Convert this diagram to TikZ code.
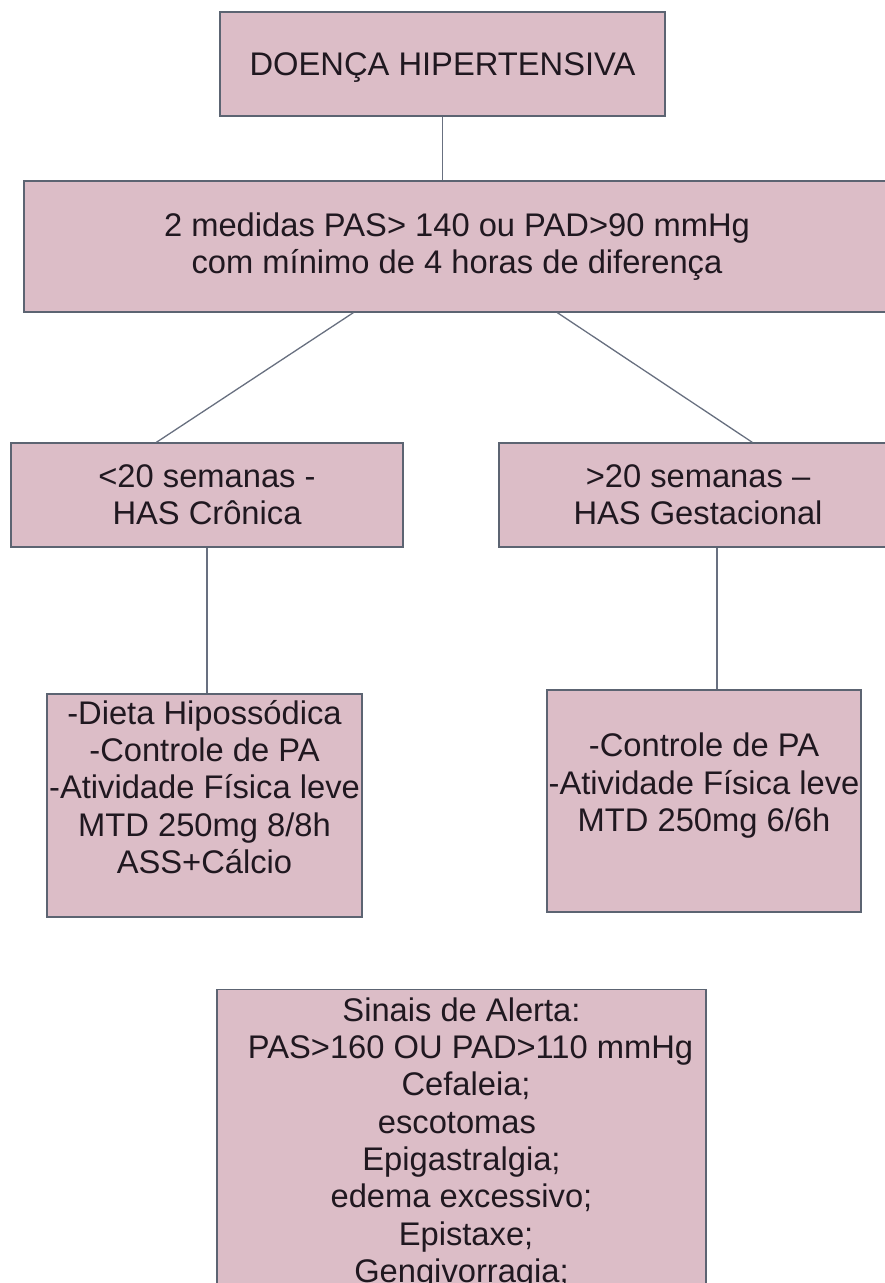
\documentclass[tikz,border=0pt]{standalone}
\usepackage{fontspec}
\setmainfont{Liberation Sans}
\definecolor{boxfill}{RGB}{220,189,199}
\definecolor{boxline}{RGB}{92,100,114}
\definecolor{linkcol}{RGB}{104,112,128}
\definecolor{ink}{RGB}{32,24,32}
\begin{document}
\begin{tikzpicture}[x=1pt,y=-1pt,
  box/.style={draw=boxline, fill=boxfill, line width=1.3pt, inner sep=0pt,
    align=center, text=ink, font=\fontsize{32.7}{37.3}\selectfont},
  link/.style={draw=linkcol, line width=1.3pt}]
\useasboundingbox[fill=white] (0,0) rectangle (885,1283);

% flowchart boxes
\node[box, minimum width=445pt, minimum height=104pt, text depth=0pt] (b1) at (442.5,64)
  {DOENÇA HIPERTENSIVA};
\node[box, minimum width=866pt, minimum height=131pt] (b2) at (457,246.5)
  {2 medidas PAS> 140 ou PAD>90 mmHg\\com mínimo de 4 horas de diferença};
\node[box, minimum width=392pt, minimum height=104pt] (b3l) at (207,495)
  {<20 semanas -\\HAS Crônica};
\node[box, minimum width=398pt, minimum height=104pt] (b3r) at (698,495)
  {>20 semanas –\\HAS Gestacional};
\node[box, minimum width=315pt, minimum height=223pt] (b4l) at (204.5,805.5)
  {-Dieta Hipossódica\\-Controle de PA\\-Atividade Física leve\\MTD 250mg 8/8h\\ASS+Cálcio\\{}};
\node[box, minimum width=314pt, minimum height=222pt] (b4r) at (704,801)
  {-Controle de PA\\-Atividade Física leve\\MTD 250mg 6/6h\\{}};
\node[box, minimum width=489pt, inner ysep=8pt, anchor=north] (b5) at (461.5,989)
  {Sinais de Alerta:~\\~~PAS>160 OU PAD>110 mmHg\\~Cefaleia;\\escotomas~~\\Epigastralgia;\\edema excessivo;\\~Epistaxe;\\Gengivorragia;};

% connectors
\draw[link] (b1.south) -- (b1.south |- b2.north);
\draw[link] ([xshift=330pt]b2.south west) -- ([xshift=146pt]b3l.north west);
\draw[link] ([xshift=534pt]b2.south west) -- ([xshift=254pt]b3r.north west);
\draw[link] (b3l.south) -- (b3l.south |- b4l.north);
\draw[link] ([xshift=19pt]b3r.south) -- ([xshift=19pt]b3r.south |- b4r.north);
\end{tikzpicture}
\end{document}
